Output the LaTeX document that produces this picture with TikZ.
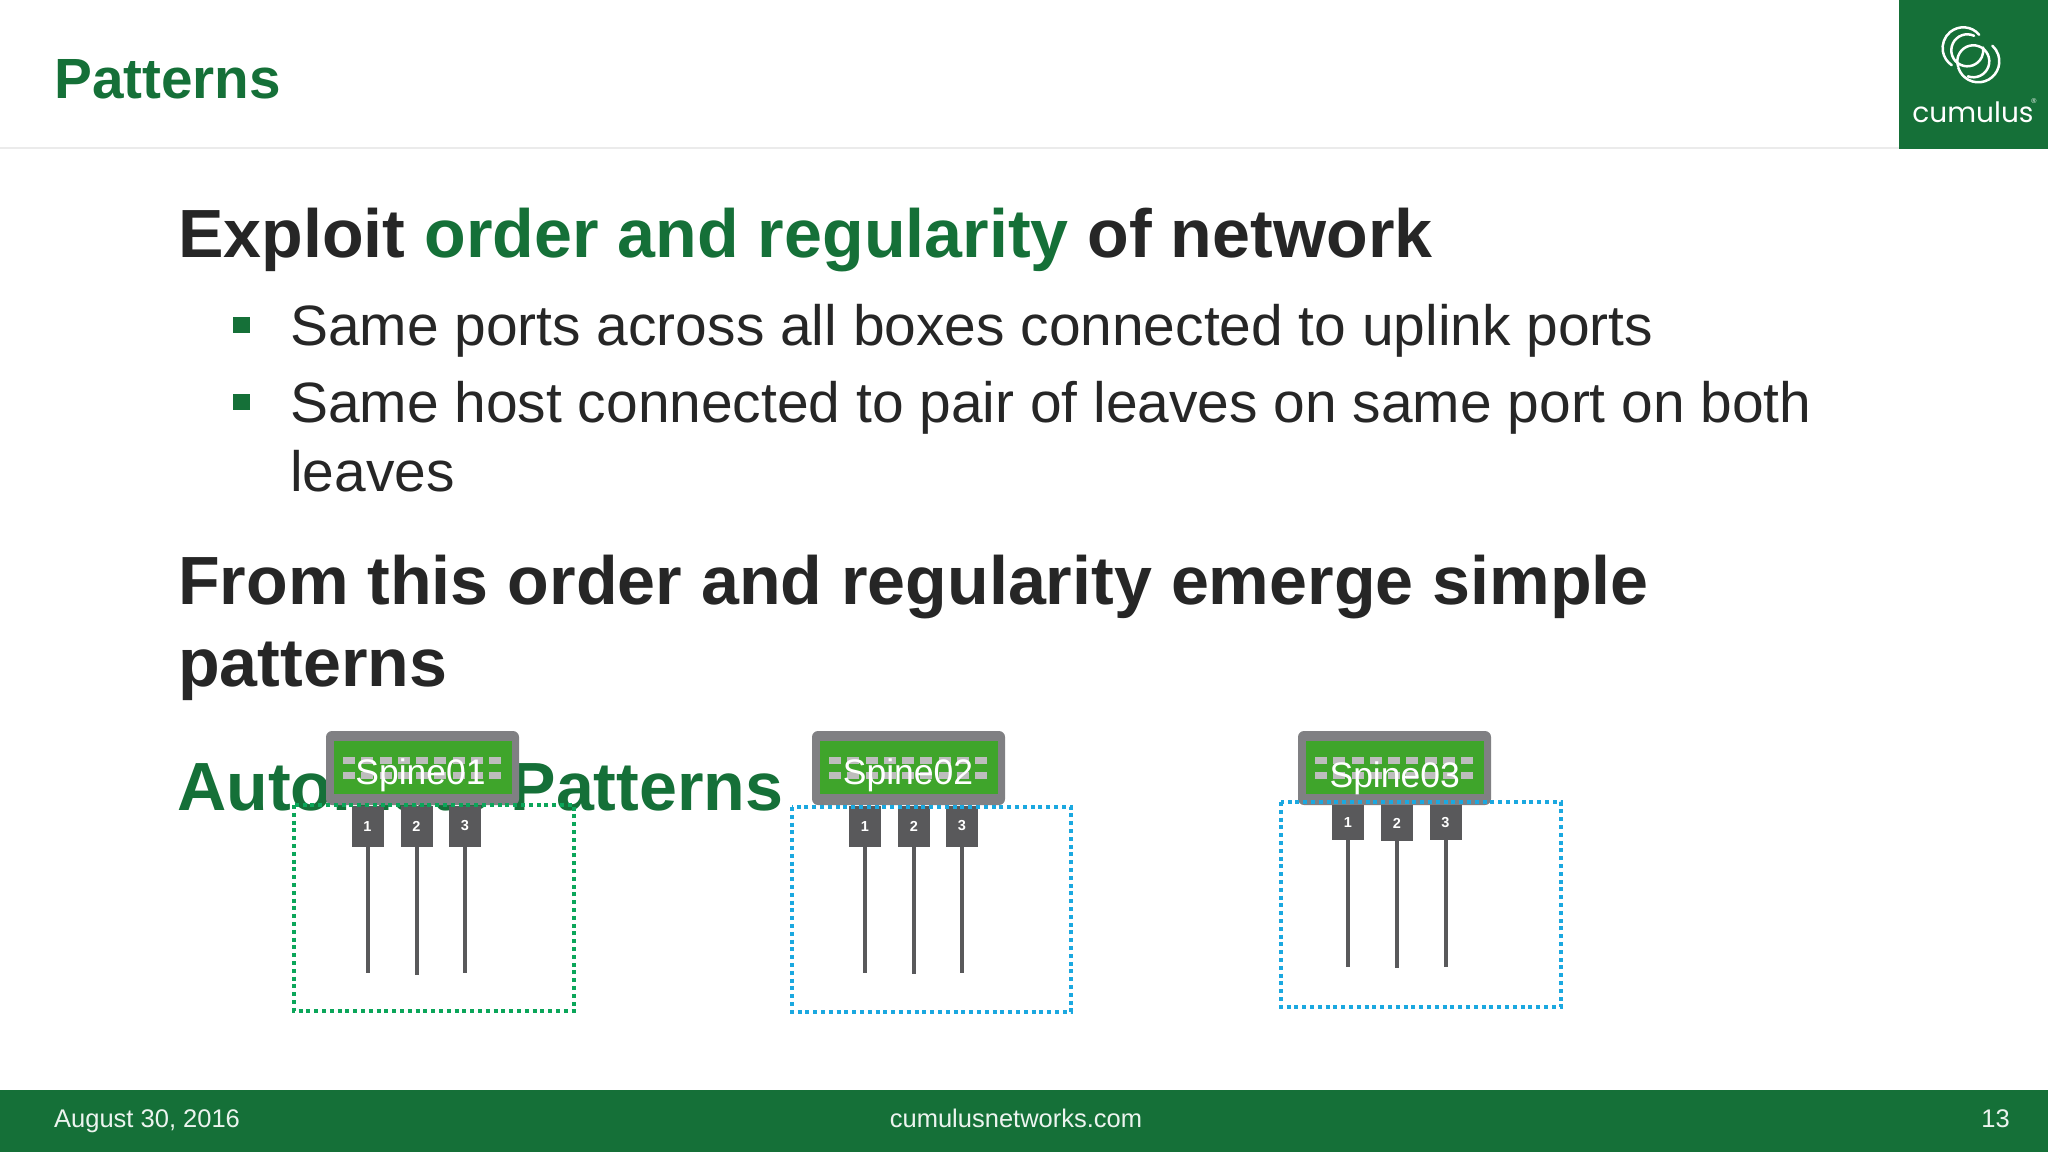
\documentclass[tikz,border=0pt]{standalone}
\usepackage{fontspec}
\setmainfont{Liberation Sans}
\newfontfamily\logofont{Poppins}
\definecolor{cugreen}{HTML}{157038}
\definecolor{cudark}{HTML}{262626}
\definecolor{cugray}{HTML}{808083}
\definecolor{cuport}{HTML}{59595B}
\definecolor{culed}{HTML}{3FA52B}
\definecolor{culedbar}{HTML}{BDBDBD}
\definecolor{dotgreen}{HTML}{0BA65A}
\definecolor{dotblue}{HTML}{1BA8E0}
\tikzset{
  txt/.style={anchor=base west, inner sep=0pt, text=cudark},
  title/.style={txt, text=cugreen, font=\fontsize{56.7}{57}\selectfont\bfseries},
  heading/.style={txt, font=\fontsize{68.2}{68}\selectfont\bfseries},
  bulleted/.style={txt, font=\fontsize{56.9}{57}\selectfont},
  foot/.style={anchor=base, inner sep=0pt, text=white!92!cugreen, font=\fontsize{25.5}{25}\selectfont},
  squarebullet/.style={fill=cugreen, inner sep=0pt, minimum size=16.5pt},
  spinebody/.style={fill=cugray, rounded corners=6pt, inner sep=0pt, minimum width=193pt, minimum height=74pt},
  spinepanel/.style={fill=culed, inner sep=0pt, minimum width=178pt, minimum height=53pt},
  spinelabel/.style={anchor=base, inner sep=0pt, text=white, font=\fontsize{35.5}{35}\selectfont},
  port/.style={fill=cuport, inner sep=0pt, minimum width=32pt, minimum height=41pt, text=white, font=\fontsize{14.5}{14}\selectfont\bfseries},
  portline/.style={draw=cuport, line width=4pt},
  dotbox/.style={line width=4pt, dash pattern=on 4pt off 3.8pt},
  ring/.style={draw=white, line width=2.5pt, line cap=round}
}
\begin{document}
\begin{tikzpicture}[x=1pt, y=1pt]
  \useasboundingbox (0,0) rectangle (2048,-1152);

  % header and footer
  \draw[draw=black!8, line width=1.5pt] (0,-148) -- (1899,-148);
  \fill[cugreen] (1899,0) rectangle (2048,-149);
  \fill[cugreen] (0,-1090) rectangle (2048,-1152);
  \node[title] (head) at (54,-98) {Patterns};
  \node[foot, anchor=base west] (date) at (54,-1127) {August 30, 2016};
  \node[foot] (site) at (1016,-1127) {cumulusnetworks.com};
  \node[foot, anchor=base east] (page) at (2010,-1127) {13};

  % logo
  \draw[ring] (1963.3,-48) ++(40:20.7) arc (40:236:20.7);
  \draw[ring] (1967.3,-50.3) ++(65:16) arc (65:370:16);
  \draw[ring] (1973.3,-61.3) ++(250:16) arc (250:560:16);
  \draw[ring] (1978.3,-61.3) ++(198:21) arc (198:408:21);
  \node[anchor=base, inner sep=0pt, text=white, font=\logofont\fontsize{28}{28}\selectfont] (logo) at (1973,-122) {cumulus};
  \node[anchor=base, inner sep=0pt, text=white, font=\fontsize{7}{7}\selectfont] (reg) at (2034,-103) {®};

  % text
  \node[heading] (l1) at (178,-257) {Exploit {\color{cugreen}order and regularity} of network};
  \node[squarebullet] (b1) at (241.5,-325) {};
  \node[bulleted] (l2) at (290,-345) {Same ports across all boxes connected to uplink ports};
  \node[squarebullet] (b2) at (241.5,-402) {};
  \node[bulleted] (l3) at (290,-422) {Same host connected to pair of leaves on same port on both};
  \node[bulleted] (l4) at (290,-491) {leaves};
  \node[heading] (l5) at (178,-604) {From this order and regularity emerge simple};
  \node[heading] (l6) at (178,-686) {patterns};
  \node[heading, text=cugreen] (l7) at (177,-810) {Automate Patterns};

  % spines
  \foreach \n/\sx/\lx/\ly in {1/422.5/420.5/-784, 2/908.5/908/-784, 3/1394.5/1394.7/-787} {
    \node[spinebody] (s\n) at (\sx,-768) {};
    \node[spinepanel] (g\n) at (\sx,-767.5) {};
    \foreach \i in {0,...,8} {
      \fill[culedbar] (\sx-79.5+18.25*\i,-757) rectangle ++(12,-7);
      \fill[culedbar] (\sx-79.5+18.25*\i,-772) rectangle ++(12,-7);
    }
    \node[spinelabel] (t\n) at (\lx,\ly) {Spine0\n};
  }

  % ports
  \node[port] (p11) at (367.5,-826) {1};
  \node[port] (p12) at (416.5,-826.5) {2};
  \node[port] (p13) at (465,-826) {3};
  \node[port] (p21) at (865,-826) {1};
  \node[port] (p22) at (914,-826.5) {2};
  \node[port] (p23) at (962,-826) {3};
  \node[port, minimum height=35pt] (p31) at (1348,-822.5) {1};
  \node[port, minimum height=36pt] (p32) at (1397,-823) {2};
  \node[port, minimum height=35pt] (p33) at (1445.5,-822.5) {3};

  % line ends
  \coordinate (e11) at (367.5,-973);
  \coordinate (e12) at (416.5,-975);
  \coordinate (e13) at (465,-973);
  \coordinate (e21) at (865,-973);
  \coordinate (e22) at (914,-974);
  \coordinate (e23) at (962,-973);
  \coordinate (e31) at (1348,-967);
  \coordinate (e32) at (1397,-968);
  \coordinate (e33) at (1445.5,-967);

  % lines
  \draw[portline] (p11.south) -- (e11);
  \draw[portline] (p12.south) -- (e12);
  \draw[portline] (p13.south) -- (e13);
  \draw[portline] (p21.south) -- (e21);
  \draw[portline] (p22.south) -- (e22);
  \draw[portline] (p23.south) -- (e23);
  \draw[portline] (p31.south) -- (e31);
  \draw[portline] (p32.south) -- (e32);
  \draw[portline] (p33.south) -- (e33);

  % dotted frames
  \draw[dotbox, dotgreen] (294,-805) rectangle (574,-1011);
  \draw[dotbox, dotblue] (792,-807) rectangle (1071,-1012);
  \draw[dotbox, dotblue] (1281,-802) rectangle (1561,-1007);

\end{tikzpicture}
\end{document}
